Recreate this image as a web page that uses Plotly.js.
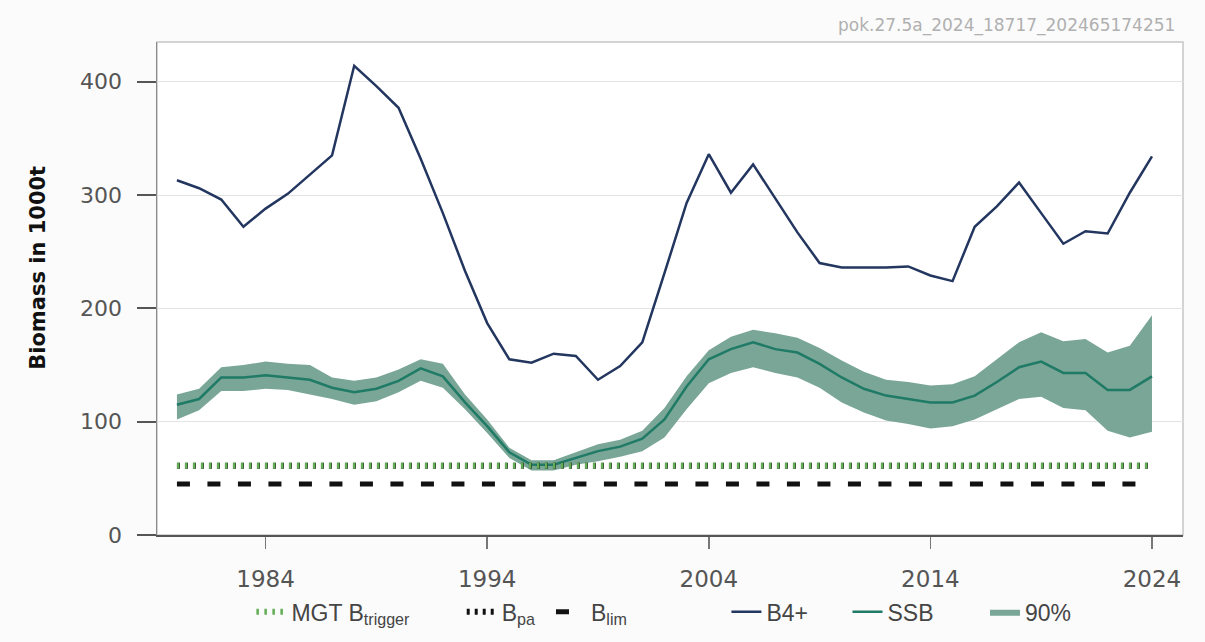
<!DOCTYPE html>
<html>
<head>
<meta charset="utf-8">
<script src="https://cdn.plot.ly/plotly-3.0.1.min.js"></script>
<style>html,body{margin:0;padding:0;background:#fbfbfb;}#chart{width:1205px;height:642px;}</style>
</head>
<body>
<div id="chart"></div>
<script>
// ---- data ----
const years = [1980,1981,1982,1983,1984,1985,1986,1987,1988,1989,1990,1991,1992,1993,1994,1995,1996,1997,1998,1999,2000,2001,2002,2003,2004,2005,2006,2007,2008,2009,2010,2011,2012,2013,2014,2015,2016,2017,2018,2019,2020,2021,2022,2023,2024];
const b4plus = [313,306,296,272,288,301,318,335,414,396,377,332,284,233,187,155,152,160,158,137,149,170,231,293,336,302,327,297,267,240,236,236,236,237,229,224,272,290,311,284,257,268,266,302,334];
const ssb = [115,120,139,139,141,139,137,130,126,129,136,147,140,117,96,73,62,62,68,74,78,85,102,131,155,164,170,164,161,151,139,129,123,120,117,117,123,135,148,153,143,143,128,128,140];
const ssbHigh = [124,129,148,150,153,151,150,139,136,139,146,155,151,124,102,77,66,66,73,80,84,92,112,140,163,175,181,178,174,165,154,144,137,135,132,133,140,155,170,179,171,173,161,167,194];
const ssbLow = [102,110,127,127,129,128,124,120,115,118,126,136,130,111,90,68,57,57,62,65,69,74,86,111,134,143,148,143,139,130,117,108,101,98,94,96,102,111,120,122,112,110,92,86,91];
const refYears = [1980, 2024];
const mgtBtrigger = [61, 61];
const bpa = [61, 61];
const blim = [45, 45];
const xTicks = [1984, 1994, 2004, 2014, 2024];
const yTicks = [0, 100, 200, 300, 400];
const yTitle = "Biomass in 1000t";
const stamp = "pok.27.5a_2024_18717_202465174251";

const legFont = {family: "Liberation Sans, Arial, sans-serif", size: 23, color: "#454545"};
function leg(x) {
  return {orientation: "h", x: x, xanchor: "left", y: -0.112, yanchor: "top",
          bgcolor: "rgba(0,0,0,0)", font: legFont, itemwidth: 30, tracegroupgap: 0};
}

const traces = [
  {x: years, y: ssbHigh, type: "scatter", mode: "lines", line: {width: 0, color: "#7aa697"},
   showlegend: false, hoverinfo: "skip"},
  {x: years, y: ssbLow, type: "scatter", mode: "lines", fill: "tonexty", fillcolor: "#7aa697",
   line: {width: 0, color: "#7aa697"}, name: "90%", legend: "legend6"},
  {x: years, y: ssb, type: "scatter", mode: "lines", line: {color: "#1f7a66", width: 2.5},
   name: "SSB", legend: "legend5"},
  {x: years, y: b4plus, type: "scatter", mode: "lines", line: {color: "#23365f", width: 2.5},
   name: "B4+", legend: "legend4"},
  {x: refYears, y: bpa, type: "scatter", mode: "lines", line: {color: "#111111", width: 6, dash: "3px,5px"},
   name: "B<sub>pa</sub>", legend: "legend2"},
  {x: refYears, y: mgtBtrigger, type: "scatter", mode: "lines", line: {color: "#62ad56", width: 6, dash: "2.5px,5.5px"},
   name: "MGT B<sub>trigger</sub>", legend: "legend"},
  {x: refYears, y: blim, type: "scatter", mode: "lines", line: {color: "#111111", width: 5, dash: "13px,17.5px"},
   name: "B<sub>lim</sub>", legend: "legend3"}
];

const layout = {
  width: 1205, height: 642,
  paper_bgcolor: "#fbfbfb", plot_bgcolor: "#ffffff",
  margin: {l: 157, r: 22, t: 42, b: 107, autoexpand: false},
  font: {family: "DejaVu Sans, sans-serif", color: "#555555"},
  xaxis: {range: [1979.1, 2025.4], tickvals: xTicks, ticktext: xTicks.map(String),
          showgrid: false, zeroline: false, showline: true, linecolor: "#555555", linewidth: 2,
          ticks: "outside", ticklen: 12, tickwidth: 1.5, tickcolor: "#777777",
          ticklabelstandoff: 10, tickfont: {family: "DejaVu Sans, sans-serif", size: 23, color: "#555555"}},
  yaxis: {range: [0, 435], tickvals: yTicks, ticktext: yTicks.map(String),
          showgrid: true, gridcolor: "#e3e3e3", gridwidth: 1, zeroline: false,
          showline: true, linecolor: "#8a8a8a", linewidth: 1.5,
          ticks: "outside", ticklen: 19, tickwidth: 2, tickcolor: "#555555",
          ticklabelstandoff: 10, tickfont: {family: "DejaVu Sans, sans-serif", size: 22, color: "#555555"}},
  shapes: [{type: "rect", xref: "paper", yref: "paper", x0: 0, x1: 1, y0: 0, y1: 1,
            line: {color: "#c6c6c6", width: 1.5}, layer: "below"}],
  annotations: [
    {text: stamp, xref: "paper", yref: "paper", x: 0.994, y: 1.0, xanchor: "right", yanchor: "bottom",
     yshift: 4, showarrow: false, font: {family: "DejaVu Sans, sans-serif", size: 17, color: "#b0b0b0"}},
    {text: "<b>" + yTitle + "</b>", xref: "paper", yref: "paper", x: -0.116, y: 0.542, xanchor: "center", yanchor: "middle",
     textangle: -90, showarrow: false, font: {family: "DejaVu Sans, sans-serif", size: 21, color: "#111111"}}
  ],
  legend: leg(0.092), legend2: leg(0.297), legend3: leg(0.384),
  legend4: leg(0.555), legend5: leg(0.673), legend6: leg(0.807),
  showlegend: true
};

Plotly.newPlot("chart", traces, layout, {displayModeBar: false, staticPlot: true});
</script>
</body>
</html>
